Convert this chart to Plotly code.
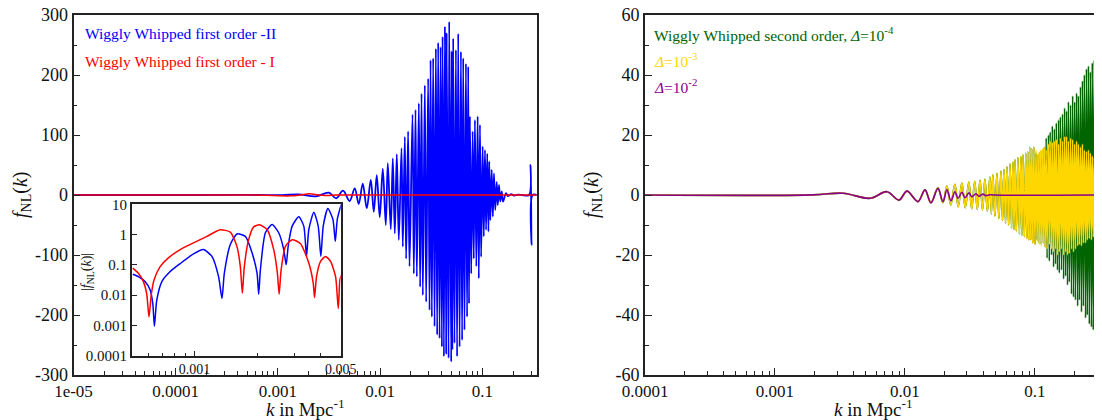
import math
import plotly.graph_objects as go

# ---------------- data: left panel (first order) ----------------
k_blue = [1e-5, 1e-4, 0.0005, 0.00064, 0.0011, 0.0016, 0.00235, 0.00315, 0.00372, 0.00434, 0.00503,
          0.00565, 0.00618, 0.00677, 0.00741, 0.00811, 0.00868, 0.00928, 0.00993, 0.01063, 0.01137,
          0.0119, 0.01273, 0.01332, 0.01394, 0.01458, 0.01525,
          0.01621, 0.01669, 0.01747, 0.01799, 0.01881, 0.01942, 0.02077, 0.0214, 0.02223, 0.02289,
          0.02395, 0.02467, 0.02545, 0.02621, 0.02742, 0.02825, 0.02955, 0.03049, 0.03119, 0.03212,
          0.03308, 0.03414, 0.03516, 0.03621, 0.03703, 0.03823, 0.0391, 0.04026, 0.04091, 0.04213,
          0.04308, 0.04437, 0.04477, 0.04684, 0.04748, 0.04967, 0.05012, 0.0510, 0.05196, 0.0535,
          0.05523, 0.0567, 0.05816, 0.0600, 0.06182, 0.0635, 0.06511, 0.0670, 0.06921, 0.0710,
          0.07289, 0.0742, 0.07574, 0.0780, 0.0805, 0.0826, 0.08478, 0.0875, 0.09013, 0.0925,
          0.09495, 0.0975, 0.1009, 0.1035, 0.1063, 0.109, 0.1119, 0.1150, 0.1171, 0.1200,
          0.1237, 0.127, 0.1302, 0.134, 0.1384, 0.142, 0.1458, 0.150, 0.1549, 0.1595,
          0.1708, 0.1786, 0.1911, 0.2046, 0.2239, 0.245, 0.287, 0.297, 0.3038, 0.3107, 0.345]
f_blue = [0, 0.04, 0.05, 0, -0.32, 1.05, -2.15, 3.9, -5.5, 7.2, -10,
          11, -15, 19, -22, 25, -28, 33, -37, 44, -50,
          53, -57, 61, -64, 68, -75,
          78, -86, 97, -106, 106, -119, 134, -131, 142, -136,
          153, -153, 169, -167, 183, -178, 194, -192, 225, -203,
          228, -219, 244, -233, 254, -239, 247, -253, 264, -269,
          281, -264, 269, -272, 289, -278, 240, -258, 261, -247,
          242, -269, 269, -253, 239, -242, 228, -225, 219, -203,
          214, -181, 131, -131, 106, -106, 125, -119, 131, -139,
          117, -103, 81, -69, 75, -58, 69, -61, 56, -42,
          42, -36, 36, -25, 22, -17, 17, -11, 6, -11,
          3, -2, 1.5, -1, 0.5, 0, 0, 50, -83, 0, 0]

k_red = [1e-5, 0.0005, 0.0006, 0.00133, 0.00166, 0.00204, 0.0025, 0.00293, 0.0037, 0.00423, 0.0048, 0.01, 0.345]
f_red = [0, 0.08, 0, -1.45, 0, 2.1, 0, -0.7, 0, 0.19, 0, 0, 0]

# inset |f_NL(k)|
k_in_red = [0.000506, 0.000538, 0.000569, 0.00059, 0.000605, 0.000621, 0.00064, 0.000684, 0.000749, 0.000853,
            0.000988, 0.001145, 0.001327, 0.001482, 0.001595, 0.001655, 0.001692, 0.001729, 0.001813, 0.001917,
            0.002041, 0.002222, 0.00239, 0.00249, 0.002538, 0.002594, 0.00272, 0.002929, 0.003211, 0.003519,
            0.003694, 0.003748, 0.003831, 0.004005, 0.004232, 0.004472, 0.004726, 0.004869, 0.004956, 0.005033]
f_in_red = [0.078, 0.053, 0.028, 0.011, 0.0019, 0.011, 0.032, 0.087, 0.17, 0.32,
            0.53, 0.87, 1.45, 1.2, 0.4, 0.087, 0.0115, 0.087, 0.68, 1.8,
            2.1, 1.47, 0.32, 0.052, 0.0107, 0.068, 0.41, 0.68, 0.5, 0.115,
            0.025, 0.0083, 0.041, 0.13, 0.19, 0.13, 0.041, 0.0036, 0.032, 0.045]

k_in_blue = [0.000506, 0.000538, 0.000579, 0.000612, 0.000631, 0.000642, 0.000659, 0.000697, 0.000764, 0.000853,
             0.000988, 0.001103, 0.00121, 0.001302, 0.001352, 0.001387, 0.001482, 0.001595, 0.001749, 0.001883,
             0.00199, 0.002026, 0.002064, 0.002181, 0.002349, 0.002525, 0.00267, 0.002742, 0.002803, 0.002929,
             0.003151, 0.00333, 0.003431, 0.003519, 0.003718, 0.003903, 0.004018, 0.004125, 0.004341, 0.004588,
             0.004711, 0.004816, 0.005033]
f_in_blue = [0.049, 0.041, 0.028, 0.015, 0.0052, 0.00093, 0.0068, 0.028, 0.06, 0.11,
             0.23, 0.32, 0.19, 0.041, 0.0078, 0.052, 0.47, 1.05, 0.87, 0.25,
             0.052, 0.0107, 0.068, 1.15, 2.15, 1.15, 0.32, 0.1, 0.41, 1.9,
             3.9, 1.9, 0.19, 1.47, 5.5, 1.9, 0.19, 1.9, 7.2, 3.2,
             0.6, 3.2, 10]

# ---------------- data: right panel (second order) ----------------
k_common = [1e-4, 0.00196, 0.003335, 0.005379, 0.007268, 0.00899, 0.01036, 0.01259, 0.01425, 0.01585]
f_common = [0, 0.05, 0.6, -1.1, 1.1, -1.7, 1.3, -2.2, 1.7, -2.6]

k_purple_tail = [0.01794, 0.0196, 0.02104, 0.02258, 0.02424, 0.02557, 0.02745, 0.02894, 0.03107, 0.03276,
                 0.03517, 0.03708, 0.03981, 0.04198, 0.04506, 0.04837, 0.328]
f_purple_tail = [2.2, -2.2, 1.7, -1.9, 1.1, -1.1, 0.9, -0.9, 0.7, -0.6,
                 0.4, -0.4, 0.3, -0.2, 0.1, 0, 0]

k_mid = [0.0179, 0.0196, 0.0210, 0.0225, 0.0242, 0.0257, 0.0274, 0.0291, 0.0310, 0.0326,
         0.0344, 0.0360, 0.0378, 0.0395, 0.0412, 0.0431, 0.0450, 0.0462, 0.0474, 0.0492,
         0.0510, 0.0528, 0.0548, 0.0563, 0.0578, 0.0594, 0.0610, 0.0627, 0.0643, 0.0661,
         0.0678, 0.0690, 0.0702, 0.0720, 0.0740, 0.0760, 0.0780, 0.0793, 0.0808, 0.0830,
         0.0850, 0.0866, 0.0880, 0.0895, 0.0912, 0.0928, 0.0945, 0.0962, 0.0980, 0.1000]
f_yellow_mid = [2.4, -2.6, 3.0, -3.3, 3.6, -3.9, 4.0, -4.2, 4.3, -4.6,
                4.6, -4.8, 4.9, -5.0, 5.2, -5.5, 6.0, -6.3, 6.7, -7.0,
                7.2, -7.8, 8.0, -8.5, 8.6, -9.4, 9.5, -10.0, 10.5, -11.0,
                11.0, -11.5, 11.8, -12.0, 12.5, -13.0, 12.8, -13.5, 13.5, -13.9,
                14.0, -14.5, 14.5, -15.0, 16.0, -15.0, 15.5, -16.0, 16.0, -16.5]

k_high = [0.102, 0.104, 0.106, 0.108, 0.110, 0.112, 0.114, 0.116, 0.118, 0.120,
          0.122, 0.124, 0.127, 0.129, 0.131, 0.134, 0.136, 0.139, 0.141, 0.144,
          0.146, 0.149, 0.152, 0.154, 0.157, 0.160, 0.163, 0.166, 0.169, 0.172,
          0.175, 0.178, 0.181, 0.184, 0.188, 0.191, 0.195, 0.198, 0.202, 0.205,
          0.209, 0.213, 0.216, 0.220, 0.224, 0.228, 0.232, 0.236, 0.240, 0.245,
          0.249, 0.253, 0.258, 0.262, 0.267, 0.272, 0.276, 0.281, 0.286, 0.291,
          0.296, 0.302, 0.307, 0.312, 0.318, 0.323, 0.329]
f_yellow_high = [15, -15.5, 14, -16.5, 15, -17, 15.5, -16, 16, -17.5,
                 15, -18, 17, -16.5, 18, -18, 17.5, -19, 18, -18,
                 18.5, -20, 17, -19, 19, -18, 18, -20, 19.5, -19,
                 19.5, -20, 18, -19.5, 19, -18, 18.5, -19, 17, -18,
                 18, -17, 17, -16.5, 16, -17, 17, -16, 15, -16,
                 14.5, -15, 15, -14.5, 14, -15, 13, -14, 12.5, -14,
                 11, -12, 10.5, -11, 10, -10, 9]
f_green_high = [14, -15, 13.5, -16, 14.5, -16.5, 15, -16, 16, -17.5,
                19, -21, 20, -22, 21, -20, 23, -24, 22, -23,
                24, -25, 25, -26, 26, -25, 27, -28, 29, -27,
                28, -30, 31, -29, 30, -33, 33, -34, 31, -35,
                34, -37, 33, -35, 36, -39, 38, -37, 40, -41,
                42, -40, 43, -43, 41, -44, 44, -45, 45, -47,
                46, -48, 48, -48, 50, -50, 51]

left_ticks = [1e-5, 1e-4, 1e-3, 1e-2, 1e-1]
left_ticktext = ["1e-05", "0.0001", "0.001", "0.01", "0.1"]
left_yticks = [-300, -200, -100, 0, 100, 200, 300]
left_yticktext = ["-300", "-200", "-100", "0", "100", "200", "300"]
right_ticks = [1e-4, 1e-3, 1e-2, 1e-1]
right_ticktext = ["0.0001", "0.001", "0.01", "0.1"]
right_yticks = [-60, -40, -20, 0, 20, 40, 60]
right_yticktext = ["-60", "-40", "-20", "0", "20", "40", "60"]
inset_xticks = [0.001, 0.005]
inset_xticktext = ["0.001", "0.005"]
inset_yticks = [1e-4, 1e-3, 1e-2, 1e-1, 1, 10]
inset_yticktext = ["0.0001", "0.001", "0.01", "0.1", "1", "10"]

# ---------------- figure ----------------
W, H = 1102, 420
OFF = 8  # the page body adds an 8 px margin around the figure
FONT = "Liberation Serif"
BLUE, RED = "#0000ff", "#ff0000"
GREEN, GOLD, PURPLE = "#006400", "#ffd700", "#8b008b"


def px(x):
    return (x - OFF) / W


def py(y):
    return 1 - (y - OFF) / H


fig = go.Figure()


def line(x, y, color, width, xa, ya, smoothing=1.0):
    fig.add_trace(go.Scatter(x=x, y=y, mode="lines", xaxis=xa, yaxis=ya,
                             line=dict(color=color, width=width, shape="spline", smoothing=smoothing),
                             showlegend=False, hoverinfo="skip"))


line(k_blue, f_blue, BLUE, 1.8, "x", "y")
line(k_red, f_red, RED, 1.5, "x", "y")
line(k_common + k_mid + k_high, f_common + f_yellow_mid + f_green_high, GREEN, 1.6, "x2", "y2")
line(k_common + k_mid + k_high, f_common + f_yellow_mid + f_yellow_high, GOLD, 1.6, "x2", "y2")
line(k_common + k_purple_tail, f_common + f_purple_tail, PURPLE, 1.6, "x2", "y2")
line(k_in_blue, f_in_blue, BLUE, 1.5, "x3", "y3", 0.6)
line(k_in_red, f_in_red, RED, 1.5, "x3", "y3", 0.6)

AX = dict(showgrid=False, zeroline=False, linecolor="#222", linewidth=1.6, automargin=False,
          ticks="inside", tickcolor="#222", ticklen=7, tickwidth=1.2, ticklabeloverflow="allow")
minor_left = [m * 10.0 ** e for e in range(-5, 0) for m in range(2, 10) if m * 10.0 ** e < 0.34]
minor_right = [m * 10.0 ** e for e in range(-4, 0) for m in range(2, 10)]

ydom = [py(375), py(15)]
fig.update_layout(
    width=W, height=H, autosize=False,
    margin=dict(l=0, r=0, t=0, b=0, pad=0, autoexpand=False),
    paper_bgcolor="white", plot_bgcolor="white", showlegend=False,
    font=dict(family=FONT, color="#111"),
    xaxis=dict(AX, domain=[px(73.5), px(536.7)], anchor="y", type="log",
               range=[-5, math.log10(0.341)], tickvals=left_ticks, ticktext=left_ticktext,
               tickfont=dict(size=17), mirror=True,
               minor=dict(tickvals=minor_left, ticks="inside", ticklen=4, tickcolor="#222")),
    yaxis=dict(AX, domain=ydom, anchor="x", range=[-300, 300],
               tickvals=left_yticks, ticktext=left_yticktext, tickfont=dict(size=18), mirror=True,
               minor=dict(tickvals=[-250, -150, -50, 50, 150, 250], ticks="inside", ticklen=4, tickcolor="#222")),
    xaxis2=dict(AX, domain=[px(645), px(1102)], anchor="y2", type="log",
                range=[-4, math.log10(0.328)], tickvals=right_ticks, ticktext=right_ticktext,
                tickfont=dict(size=17), mirror=True,
                minor=dict(tickvals=minor_right, ticks="inside", ticklen=4, tickcolor="#222")),
    yaxis2=dict(AX, domain=ydom, anchor="x2", range=[-60, 60],
                tickvals=right_yticks, ticktext=right_yticktext, tickfont=dict(size=18), mirror=False,
                minor=dict(tickvals=[-50, -30, -10, 10, 30, 50], ticks="inside", ticklen=4, tickcolor="#222")),
    xaxis3=dict(AX, domain=[px(131.7), px(340.7)], anchor="y3", type="log",
                range=[math.log10(0.0005), math.log10(0.005)], tickvals=inset_xticks,
                ticktext=inset_xticktext, tickfont=dict(size=14), mirror=True, ticklen=5,
                minor=dict(tickvals=[0.0006, 0.0007, 0.0008, 0.0009, 0.002, 0.003, 0.004],
                           ticks="inside", ticklen=3, tickcolor="#222")),
    yaxis3=dict(AX, domain=[py(355.7), py(204.3)], anchor="x3", type="log", range=[-4, 1],
                tickvals=inset_yticks, ticktext=inset_yticktext, tickfont=dict(size=15),
                mirror=True, ticklen=5),
)


def note(x, y, text, size, color="#111", angle=0, xanchor="center"):
    fig.add_annotation(x=px(x), y=py(y), xref="paper", yref="paper", text=text, showarrow=False,
                       textangle=angle, xanchor=xanchor, yanchor="middle",
                       font=dict(family=FONT, size=size, color=color))


note(305, 408, "<i>k</i> in Mpc<sup>-1</sup>", 19)
note(873.5, 408, "<i>k</i> in Mpc<sup>-1</sup>", 19)
note(21, 195, "<i>f</i><sub>NL</sub>(<i>k</i>)", 20, angle=-90)
note(592, 195, "<i>f</i><sub>NL</sub>(<i>k</i>)", 20, angle=-90)
note(87, 272, "|<i>f</i><sub>NL</sub>(<i>k</i>)|", 14, angle=-90)

note(83, 33, "Wiggly Whipped first order -II", 15.5, BLUE, xanchor="left")
note(83, 61, "Wiggly Whipped first order - I", 15.5, RED, xanchor="left")
note(652, 34, "Wiggly Whipped second order, <i>Δ</i>=10<sup>-4</sup>", 15.5, GREEN, xanchor="left")
note(652, 60, "<i>Δ</i>=10<sup>-3</sup>", 15.5, GOLD, xanchor="left")
note(652, 86, "<i>Δ</i>=10<sup>-2</sup>", 15.5, PURPLE, xanchor="left")

fig.write_html("out.html")
